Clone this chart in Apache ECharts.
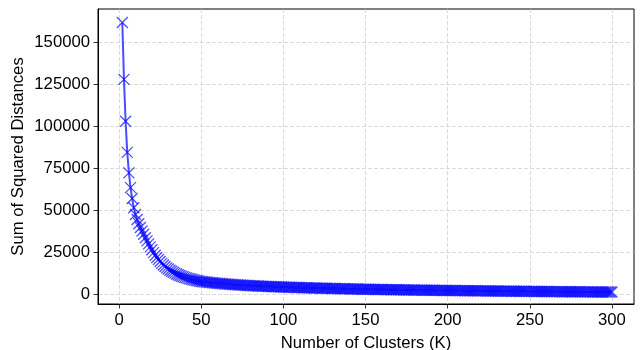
<!DOCTYPE html>
<html>
<head>
<meta charset="utf-8">
<script src="https://cdn.jsdelivr.net/npm/echarts@6/dist/echarts.min.js"></script>
<style>html,body{margin:0;padding:0;background:#fff;}#c{width:641px;height:350px;}</style>
</head>
<body>
<div id="c"></div>
<script>
// Sum of squared distances for K = 2 .. 300
const sse = [
161900,128000,103000,84500,72300,63500,57000,51500,47500,44500,
42000,39800,37700,35700,33700,31800,30000,28200,26500,24800,
23200,21900,20700,19500,18400,17400,16500,15700,15000,14300,
13700,13100,12600,12100,11600,11200,10800,10400,10050,9750,
9450,9150,8900,8650,8400,8200,8000,7800,7600,
7480,7370,7260,7150,7040,6940,6840,6740,6640,6540,
6450,6360,6270,6190,6110,6030,5950,5870,5800,5730,
5665,5600,5540,5480,5420,5360,5300,5250,5200,5150,
5100,5050,5000,4950,4900,4855,4810,4765,4720,4680,
4640,4600,4560,4520,4480,4440,4400,4365,4330,4295,
4262,4230,4198,4166,4134,4102,4070,4040,4010,3980,
3950,3920,3890,3862,3834,3806,3778,3750,3723,3696,
3669,3642,3616,3590,3564,3538,3512,3487,3462,3437,
3412,3388,3364,3340,3316,3292,3269,3246,3223,3200,
3178,3156,3134,3112,3090,
3070,3050,3030,3010,2991,2972,2953,2934,2915,2897,
2879,2861,2843,2825,2808,2791,2774,2757,2740,2724,
2708,2692,2676,2660,2645,2630,2615,2600,2585,2570,
2556,2542,2528,2514,2500,2486,2472,2458,2445,2432,
2419,2406,2393,2380,2367,2355,2343,2331,2319,2307,
2295,2283,2271,2260,2249,
2238,2227,2216,2205,2194,2183,2172,2161,2150,2139,
2128,2117,2106,2095,2084,2073,2062,2051,2040,2029,
2018,2007,1996,1985,1974,1963,1952,1941,1930,1919,
1908,1897,1887,1877,1867,1857,1847,1837,1827,1817,
1807,1797,1787,1777,1767,1757,1747,1737,1727,1717,
1707,1697,1687,1677,1667,1657,1647,1637,1627,1617,
1609,1601,1593,1585,1577,1569,1561,1553,1545,1537,
1529,1521,1513,1505,1497,1489,1481,1473,1465,1457,
1449,1441,1433,1425,1417,1409,1401,1393,1385,1377,
1369,1361,1353,1345,1337,1329,1321,1313,1305,1297
];
const kStart = 2;
const ks = sse.map((_, i) => kStart + i);
const xTicks = [0, 50, 100, 150, 200, 250, 300];
const yTicks = [0, 25000, 50000, 75000, 100000, 125000, 150000];
const xTitle = 'Number of Clusters (K)';
const yTitle = 'Sum of Squared Distances';

const FONT = '"Liberation Sans", Arial, sans-serif';
const chart = echarts.init(document.getElementById('c'), null, {renderer: 'canvas'});
const lineCol = 'rgba(0,0,255,0.7)';
const gridLine = {show: true, lineStyle: {color: '#d0d0d0', width: 0.8, type: [4, 2]}};
chart.setOption({
  animation: false,
  backgroundColor: '#fff',
  grid: {left: 98, top: 9, width: 536, height: 295, show: true, borderColor: '#000', borderWidth: 1, containLabel: false, outerBoundsMode: 'none'},
  xAxis: {
    type: 'value', min: -12.8, max: 313.4,
    name: xTitle, nameLocation: 'middle', nameGap: 31, nameMoveOverlap: false,
    nameTextStyle: {fontFamily: FONT, fontSize: 16.7, color: '#000'},
    axisLine: {show: true, onZero: false, lineStyle: {color: '#000', width: 1}},
    axisTick: {show: true, length: 4.5, inside: false, customValues: xTicks, lineStyle: {color: '#000', width: 0.8}},
    axisLabel: {customValues: xTicks, margin: 8, fontFamily: FONT, fontSize: 16.7, color: '#000', formatter: v => String(v)},
    splitLine: gridLine
  },
  yAxis: {
    type: 'value', min: -5800, max: 169900,
    name: yTitle, nameLocation: 'middle', nameGap: 71, nameRotate: 90, nameMoveOverlap: false,
    nameTextStyle: {fontFamily: FONT, fontSize: 16.7, color: '#000'},
    axisLine: {show: true, onZero: false, lineStyle: {color: '#000', width: 1}},
    axisTick: {show: true, length: 4.5, inside: false, customValues: yTicks, lineStyle: {color: '#000', width: 0.8}},
    axisLabel: {customValues: yTicks, margin: 8, fontFamily: FONT, fontSize: 16.7, color: '#000', formatter: v => String(v)},
    splitLine: gridLine
  },
  series: [{
    type: 'line',
    data: ks.map((k, i) => [k, sse[i]]),
    showSymbol: true,
    showAllSymbol: true,
    symbol: 'path://M0,0L10,10M10,0L0,10',
    symbolSize: 11,
    itemStyle: {color: 'none', borderColor: lineCol, borderWidth: 1.3},
    lineStyle: {color: lineCol, width: 2},
    emphasis: {disabled: true}
  }]
});
</script>
</body>
</html>
